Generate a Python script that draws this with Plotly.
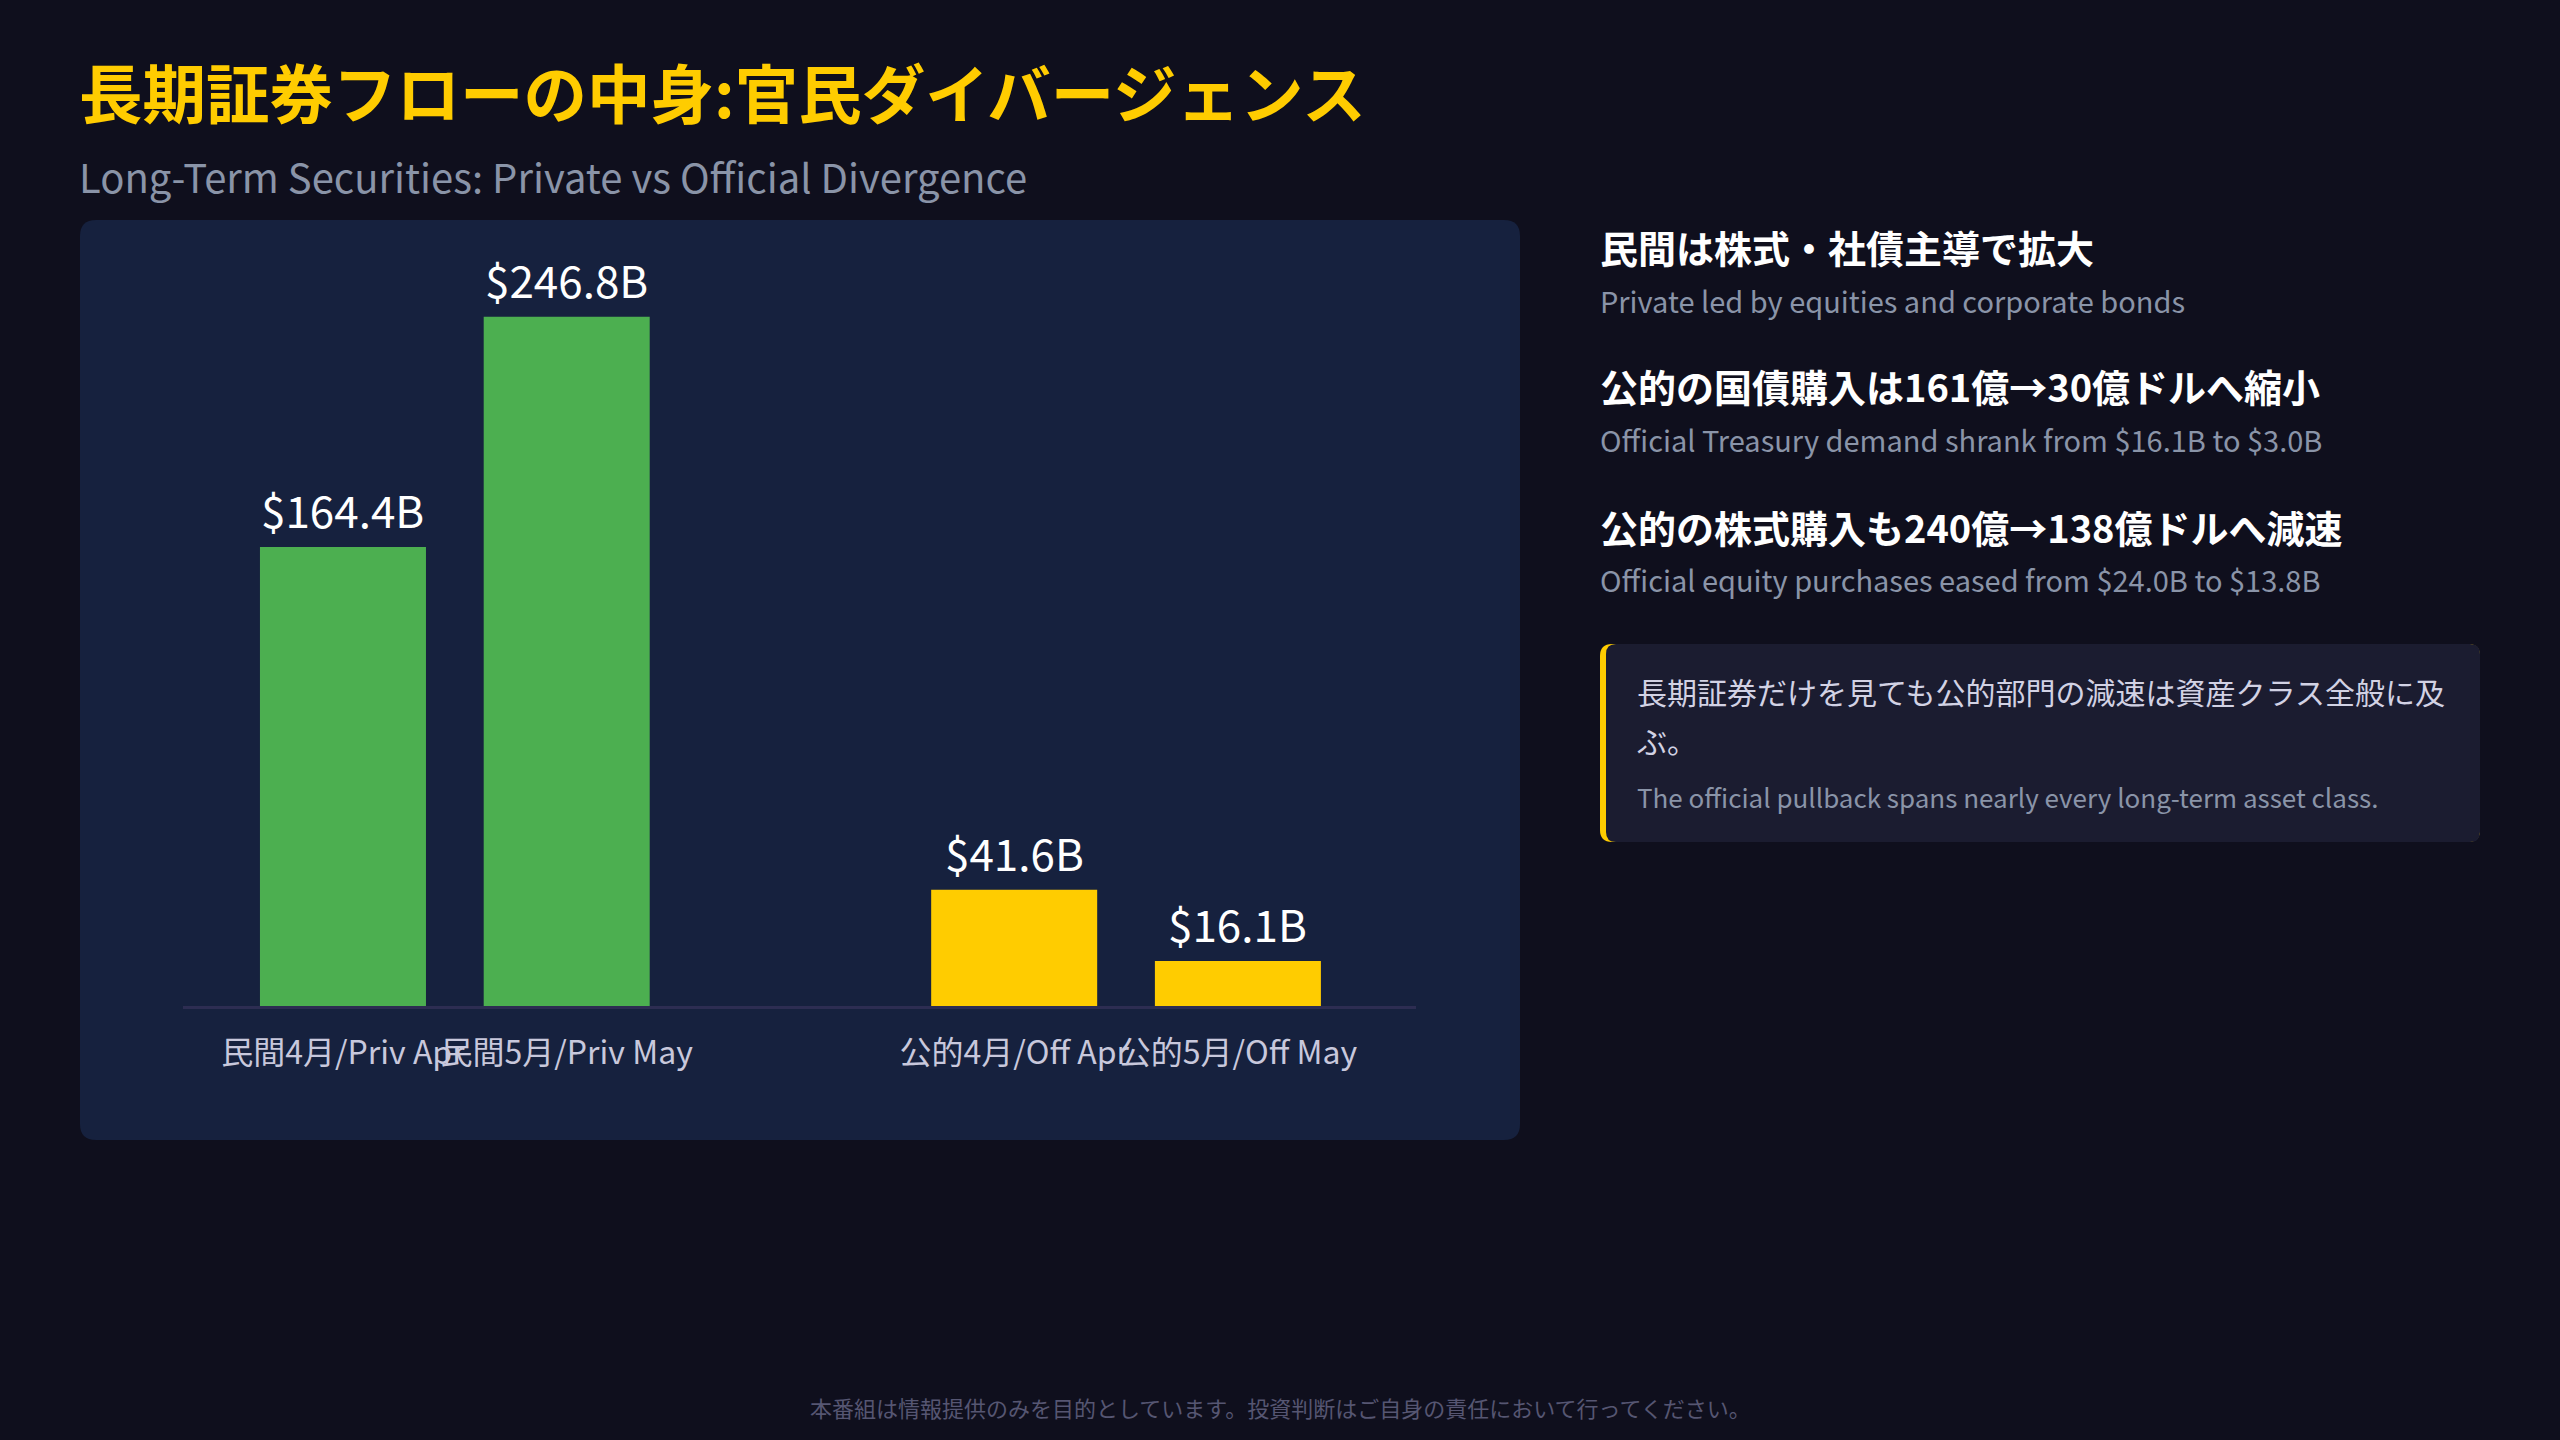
import plotly.graph_objects as go

# ---------------- data ----------------
categories = ["民間4月/Priv Apr", "民間5月/Priv May", "公的4月/Off Apr", "公的5月/Off May"]
values = [164.4, 246.8, 41.6, 16.1]
groups = ["private", "private", "official", "official"]

title_jp = "長期証券フローの中身:官民ダイバージェンス"
title_en = "Long-Term Securities: Private vs Official Divergence"
points_jp = [
    "民間は株式・社債主導で拡大",
    "公的の国債購入は161億→30億ドルへ縮小",
    "公的の株式購入も240億→138億ドルへ減速",
]
points_en = [
    "Private led by equities and corporate bonds",
    "Official Treasury demand shrank from $16.1B to $3.0B",
    "Official equity purchases eased from $24.0B to $13.8B",
]
note_jp_lines = ["長期証券だけを見ても公的部門の減速は資産クラス全般に及", "ぶ。"]
note_en = "The official pullback spans nearly every long-term asset class."
footer = "本番組は情報提供のみを目的としています。投資判断はご自身の責任において行ってください。"

# ---------------- style ----------------
W, H = 2560, 1440
FONT = "Noto Sans CJK JP"
BG = "#0f0f1d"
PANEL = "#16213e"
GREEN = "#4caf50"
YELLOW = "#ffcc00"
BOX = "#1b1c30"
group_colors = {"private": GREEN, "official": YELLOW}
SPACER = " "
axis_order = categories[:2] + [SPACER] + categories[2:]


def px(x):
    return x / W


def py(y):
    return 1 - y / H


def rrect(x0, y0, x1, y1, r):
    # rounded rectangle path in paper coordinates, from pixel coordinates
    rx, ry = r / W, r / H
    X0, X1 = px(x0), px(x1)
    Y0, Y1 = py(y0), py(y1)  # Y0 is top
    return (
        f"M {X0+rx},{Y0} L {X1-rx},{Y0} Q {X1},{Y0} {X1},{Y0-ry} "
        f"L {X1},{Y1+ry} Q {X1},{Y1} {X1-rx},{Y1} "
        f"L {X0+rx},{Y1} Q {X0},{Y1} {X0},{Y1+ry} "
        f"L {X0},{Y0-ry} Q {X0},{Y0} {X0+rx},{Y0} Z"
    )


fig = go.Figure()
fig.add_trace(
    go.Bar(
        x=categories,
        y=values,
        width=0.742,
        marker=dict(color=[group_colors[g] for g in groups], line=dict(width=0)),
        hoverinfo="skip",
        showlegend=False,
    )
)

annotations = []
for c, v in zip(categories, values):
    annotations.append(
        dict(
            x=c, y=v, xref="x", yref="y", text=f"${v:.1f}B", showarrow=False,
            yanchor="bottom", yshift=4,
            font=dict(family=FONT, size=44, color="#ffffff"),
        )
    )

# titles
annotations.append(dict(
    x=px(77), y=py(90), xref="paper", yref="paper", xanchor="left", yanchor="middle",
    text=f"<b>{title_jp}</b>", showarrow=False,
    font=dict(family=FONT, size=63.5, color=YELLOW),
))
annotations.append(dict(
    x=px(77), y=py(176), xref="paper", yref="paper", xanchor="left", yanchor="middle",
    text=title_en, showarrow=False,
    font=dict(family=FONT, size=40, color="#8a94a8"),
))

# right-hand points
head_y = [246, 386, 526]
sub_y = [300, 439, 579]
for t, s, hy, sy in zip(points_jp, points_en, head_y, sub_y):
    annotations.append(dict(
        x=px(1598), y=py(hy), xref="paper", yref="paper", xanchor="left", yanchor="middle",
        text=f"<b>{t}</b>", showarrow=False,
        font=dict(family=FONT, size=38, color="#ffffff"),
    ))
    annotations.append(dict(
        x=px(1598), y=py(sy), xref="paper", yref="paper", xanchor="left", yanchor="middle",
        text=s, showarrow=False,
        font=dict(family=FONT, size=29, color="#8a94a8"),
    ))

# note box text
for line, ly in zip(note_jp_lines, [691, 740]):
    annotations.append(dict(
        x=px(1635), y=py(ly), xref="paper", yref="paper", xanchor="left", yanchor="middle",
        text=line, showarrow=False, align="left",
        font=dict(family=FONT, size=30, color="#d2d2e4"),
    ))
annotations.append(dict(
    x=px(1635), y=py(796), xref="paper", yref="paper", xanchor="left", yanchor="middle",
    text=note_en, showarrow=False,
    font=dict(family=FONT, size=26, color="#8a94a8"),
))

# footer
annotations.append(dict(
    x=0.5, y=py(1407), xref="paper", yref="paper", xanchor="center", yanchor="middle",
    text=footer, showarrow=False,
    font=dict(family=FONT, size=22, color="#565672"),
))

shapes = [
    dict(type="path", path=rrect(80, 220, 1520, 1140, 16), xref="paper", yref="paper",
         fillcolor=PANEL, line=dict(width=0), layer="below"),
    dict(type="path", path=rrect(1600, 644, 2480, 842, 12), xref="paper", yref="paper",
         fillcolor=YELLOW, line=dict(width=0), layer="below"),
    dict(type="path", path=rrect(1606, 644, 2480, 842, 10), xref="paper", yref="paper",
         fillcolor=BOX, line=dict(width=0), layer="below"),
]

fig.update_layout(
    width=W, height=H,
    margin=dict(l=0, r=0, t=0, b=0),
    paper_bgcolor=BG, plot_bgcolor="rgba(0,0,0,0)",
    font=dict(family=FONT),
    annotations=annotations,
    shapes=shapes,
    bargap=0.25,
    xaxis=dict(
        domain=[px(183), px(1416)],
        type="category", categoryorder="array", categoryarray=axis_order,
        range=[-0.715, 4.796],
        showgrid=False, zeroline=False,
        showline=True, linecolor="#2d2d52", linewidth=3,
        ticks="", tickangle=0, ticklabelstandoff=17,
        tickfont=dict(family=FONT, size=32, color="#c8c8dc"),
        fixedrange=True, layer="below traces",
    ),
    yaxis=dict(
        domain=[1 - 1006 / H, 1 - 252 / H],
        range=[0, 270],
        showgrid=False, zeroline=False, showline=False,
        showticklabels=False, ticks="", fixedrange=True,
    ),
)

fig.write_html("out.html", config={"displayModeBar": False})
